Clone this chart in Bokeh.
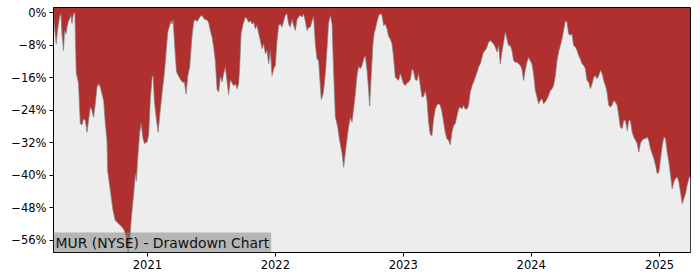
from datetime import datetime
from bokeh.plotting import figure
from bokeh.models import (Range1d, FixedTicker, CustomJSTickFormatter,
                          DatetimeTickFormatter, Label, ColumnDataSource)
from bokeh.embed import file_html
from bokeh.resources import INLINE

# ---------------- data ----------------
title_text = "MUR (NYSE) - Drawdown Chart"

# dates as decimal years
year_frac = [
    2020.268, 2020.281, 2020.289, 2020.299, 2020.315, 2020.326, 2020.334, 2020.346, 2020.354, 2020.365,
    2020.373, 2020.385, 2020.393, 2020.404, 2020.412, 2020.420, 2020.430, 2020.435, 2020.445, 2020.463,
    2020.477, 2020.490, 2020.502, 2020.516, 2020.529, 2020.541, 2020.555, 2020.568, 2020.580, 2020.594,
    2020.607, 2020.620, 2020.633, 2020.646, 2020.659, 2020.672, 2020.685, 2020.690, 2020.711, 2020.732,
    2020.750, 2020.776, 2020.802, 2020.820, 2020.836, 2020.849, 2020.862, 2020.875, 2020.893, 2020.906,
    2020.914, 2020.924, 2020.940, 2020.951, 2020.966, 2020.977, 2020.998, 2021.010, 2021.023, 2021.037,
    2021.045, 2021.055, 2021.070, 2021.084, 2021.096, 2021.115, 2021.133, 2021.148, 2021.159, 2021.174,
    2021.185, 2021.193, 2021.201, 2021.211, 2021.227, 2021.245, 2021.263, 2021.279, 2021.289, 2021.302,
    2021.316, 2021.330, 2021.349, 2021.362, 2021.375, 2021.388, 2021.401, 2021.414, 2021.427, 2021.440,
    2021.453, 2021.466, 2021.479, 2021.492, 2021.505, 2021.518, 2021.531, 2021.545, 2021.557, 2021.570,
    2021.584, 2021.596, 2021.609, 2021.623, 2021.635, 2021.648, 2021.662, 2021.674, 2021.688, 2021.701,
    2021.713, 2021.721, 2021.732, 2021.748, 2021.766, 2021.779, 2021.791, 2021.805, 2021.818, 2021.830,
    2021.844, 2021.857, 2021.870, 2021.883, 2021.896, 2021.909, 2021.922, 2021.935, 2021.948, 2021.961,
    2021.974, 2021.987, 2022.000, 2022.013, 2022.026, 2022.039, 2022.052, 2022.065, 2022.078, 2022.091,
    2022.104, 2022.117, 2022.130, 2022.143, 2022.156, 2022.170, 2022.182, 2022.195, 2022.209, 2022.221,
    2022.234, 2022.248, 2022.260, 2022.273, 2022.287, 2022.299, 2022.313, 2022.326, 2022.338, 2022.352,
    2022.359, 2022.373, 2022.383, 2022.393, 2022.404, 2022.416, 2022.430, 2022.443, 2022.455, 2022.469,
    2022.487, 2022.502, 2022.521, 2022.534, 2022.547, 2022.560, 2022.573, 2022.586, 2022.599, 2022.612,
    2022.625, 2022.638, 2022.651, 2022.664, 2022.677, 2022.690, 2022.703, 2022.716, 2022.729, 2022.737,
    2022.750, 2022.763, 2022.773, 2022.781, 2022.795, 2022.807, 2022.820, 2022.834, 2022.846, 2022.859,
    2022.873, 2022.885, 2022.898, 2022.912, 2022.924, 2022.938, 2022.951, 2022.963, 2022.977, 2022.990,
    2023.002, 2023.016, 2023.029, 2023.041, 2023.055, 2023.068, 2023.080, 2023.094, 2023.107, 2023.120,
    2023.133, 2023.146, 2023.159, 2023.172, 2023.185, 2023.198, 2023.211, 2023.224, 2023.237, 2023.250,
    2023.263, 2023.276, 2023.289, 2023.302, 2023.315, 2023.328, 2023.341, 2023.354, 2023.367, 2023.380,
    2023.393, 2023.406, 2023.420, 2023.432, 2023.445, 2023.459, 2023.471, 2023.484, 2023.498, 2023.510,
    2023.523, 2023.537, 2023.549, 2023.563, 2023.576, 2023.588, 2023.602, 2023.615, 2023.627, 2023.641,
    2023.654, 2023.666, 2023.680, 2023.693, 2023.705, 2023.719, 2023.732, 2023.745, 2023.758, 2023.771,
    2023.784, 2023.797, 2023.810, 2023.823, 2023.836, 2023.849, 2023.862, 2023.875, 2023.888, 2023.901,
    2023.914, 2023.927, 2023.940, 2023.953, 2023.966, 2023.979, 2023.992, 2024.005, 2024.018, 2024.031,
    2024.045, 2024.057, 2024.070, 2024.084, 2024.096, 2024.109, 2024.123, 2024.135, 2024.148, 2024.162,
    2024.174, 2024.188, 2024.201, 2024.213, 2024.227, 2024.240, 2024.252, 2024.266, 2024.279, 2024.291,
    2024.305, 2024.318, 2024.330, 2024.344, 2024.357, 2024.370, 2024.383, 2024.396, 2024.409, 2024.422,
    2024.435, 2024.448, 2024.461, 2024.474, 2024.487, 2024.500, 2024.513, 2024.526, 2024.539, 2024.552,
    2024.565, 2024.578, 2024.591, 2024.604, 2024.617, 2024.630, 2024.643, 2024.656, 2024.670, 2024.682,
    2024.695, 2024.709, 2024.721, 2024.734, 2024.748, 2024.760, 2024.773, 2024.787, 2024.799, 2024.813,
    2024.826, 2024.838, 2024.852, 2024.865, 2024.877, 2024.891, 2024.904, 2024.916, 2024.930, 2024.943,
    2024.956, 2024.969, 2024.982, 2024.995, 2025.008, 2025.021, 2025.034, 2025.047, 2025.060, 2025.073,
    2025.086, 2025.099, 2025.112, 2025.125, 2025.138, 2025.151, 2025.164, 2025.177, 2025.190, 2025.203,
    2025.216, 2025.229, 2025.242,
]

# drawdown in percent
drawdown_pct = [
    -0.3, -5.2, -7.7, -4.4, -1.1, -0.3, -5.2, -9.3, -4.4, -5.2,
    -3.6, -2.0, -1.6, -0.7, -2.7, -0.8, 0.0, -0.3, -14.7, -17.5,
    -27.3, -27.6, -26.1, -26.5, -29.4, -26.5, -23.2, -24.0, -25.7, -22.4,
    -18.3, -17.5, -18.3, -20.0, -21.6, -27.3, -31.4, -38.8, -43.7, -48.6,
    -51.1, -51.9, -52.7, -53.5, -55.2, -58.9, -56.0, -50.3, -44.5, -39.6,
    -41.3, -35.9, -29.4, -27.3, -31.0, -32.2, -31.8, -30.0, -21.1, -15.9,
    -15.5, -22.0, -26.1, -29.4, -25.3, -19.6, -14.7, -8.9, -4.8, -3.2,
    -2.0, -2.8, -1.8, -7.0, -14.5, -15.7, -16.7, -17.2, -17.0, -20.0,
    -15.5, -13.5, -5.8, -2.2, -1.8, -2.2, -1.6, -0.9, -0.7, -1.4,
    -1.8, -1.8, -2.5, -4.5, -6.0, -8.5, -12.0, -19.0, -19.5, -15.7,
    -17.0, -15.0, -13.4, -17.0, -20.2, -16.5, -17.3, -18.0, -17.5, -18.7,
    -17.5, -13.4, -5.2, -2.8, -1.1, -1.6, -2.4, -2.0, -2.8, -2.4,
    -4.0, -3.2, -5.2, -6.9, -8.9, -7.7, -10.1, -9.3, -12.6, -9.3,
    -15.5, -13.8, -13.0, -6.9, -3.2, -2.8, -3.6, -2.0, -0.7, -0.3,
    -2.8, -3.6, -1.6, -3.2, -4.4, -1.6, -1.1, -0.7, -1.1, -0.3,
    -2.0, -4.4, -3.6, -3.6, -2.0, -1.0, -8.0, -11.4, -11.8, -18.3,
    -21.4, -20.0, -17.5, -14.0, -8.7, -2.6, -0.7, -2.7, -14.0, -25.7,
    -28.0, -31.4, -34.5, -38.0, -34.3, -31.0, -28.0, -25.8, -26.9, -23.5,
    -20.0, -15.5, -13.2, -13.8, -13.0, -11.4, -10.6, -14.0, -19.0, -23.0,
    -15.0, -7.5, -5.0, -4.2, -2.2, -0.8, -0.3, -0.7, -3.2, -2.8,
    -4.0, -5.8, -6.5, -7.7, -11.0, -16.0, -16.3, -16.7, -15.0, -16.3,
    -17.5, -17.9, -17.3, -17.1, -16.5, -13.8, -14.5, -16.5, -16.7, -15.0,
    -18.0, -20.8, -20.6, -19.2, -21.5, -27.0, -30.0, -30.2, -26.1, -23.7,
    -22.8, -22.4, -22.8, -24.4, -26.9, -29.4, -31.0, -31.4, -32.5, -29.4,
    -27.8, -27.3, -25.3, -23.7, -23.2, -23.7, -22.8, -23.7, -23.7, -22.8,
    -19.6, -18.0, -17.1, -15.9, -14.7, -13.4, -12.6, -11.0, -9.7, -9.3,
    -8.5, -7.3, -6.9, -7.3, -7.7, -8.5, -9.7, -8.1, -12.6, -9.7,
    -7.3, -4.8, -6.5, -8.1, -8.1, -9.3, -11.8, -12.2, -12.2, -12.6,
    -13.0, -13.8, -16.7, -14.2, -12.2, -11.0, -11.8, -12.6, -15.0, -19.0,
    -20.8, -22.4, -21.6, -21.2, -22.4, -22.0, -21.2, -20.4, -19.2, -18.7,
    -18.0, -15.5, -11.8, -9.7, -8.1, -6.5, -4.4, -2.0, -2.4, -5.2,
    -5.6, -5.2, -8.1, -8.5, -9.3, -10.6, -11.4, -12.6, -13.0, -13.8,
    -16.7, -17.1, -18.7, -17.5, -15.9, -15.5, -16.3, -15.5, -14.2, -15.0,
    -16.7, -17.9, -19.6, -22.8, -23.2, -22.8, -21.6, -22.0, -22.8, -25.3,
    -28.2, -28.5, -26.5, -26.5, -29.0, -26.5, -26.5, -29.4, -30.6, -31.4,
    -32.2, -34.3, -32.0, -31.4, -31.0, -31.0, -30.6, -31.4, -33.5, -34.7,
    -35.9, -37.5, -39.6, -39.2, -35.9, -32.7, -30.6, -31.0, -34.3, -36.7,
    -39.9, -43.3, -41.6, -40.8, -40.4, -41.6, -44.1, -47.0, -45.7, -44.5,
    -42.4, -40.8, -40.0,
]

y_ticks = [0, -8, -16, -24, -32, -40, -48, -56]
x_tick_years = [2021, 2022, 2023, 2024, 2025]

# ---------------- helpers ----------------
EPOCH = datetime(1970, 1, 1)


def to_dt(y):
    yr = int(y)
    a = datetime(yr, 1, 1)
    b = datetime(yr + 1, 1, 1)
    return a + (b - a) * (y - yr)


def to_ms(d):
    return (d - EPOCH).total_seconds() * 1000.0


dates = [to_dt(v) for v in year_frac]
src = ColumnDataSource(dict(date=dates, dd=drawdown_pct))

y_lo = -58.95
y_hi = 1.23

RED = "#b03030"
GRAY_BG = "#ededed"
FONT = "DejaVu Sans"

p = figure(width=700, height=280, x_axis_type="datetime",
           output_backend="svg", toolbar_location=None,
           x_range=Range1d(to_ms(dates[0]), to_ms(dates[-1])),
           y_range=Range1d(y_lo, y_hi),
           min_border_left=53, min_border_right=10,
           min_border_top=7, min_border_bottom=28)

p.background_fill_color = RED
p.border_fill_color = "white"
p.outline_line_color = "black"
p.outline_line_width = 1
p.outline_line_alpha = 1
p.grid.visible = False

p.varea(x="date", y1=y_lo, y2="dd", source=src, fill_color=GRAY_BG)
p.line(x="date", y="dd", source=src, line_color="#808080", line_width=1, line_alpha=0.7)

# axes
p.yaxis.ticker = FixedTicker(ticks=y_ticks)
p.yaxis.formatter = CustomJSTickFormatter(
    code='return (tick < 0 ? "\\u2212" : "") + Math.abs(Math.round(tick)) + "%";')
p.xaxis.ticker = FixedTicker(ticks=[to_ms(datetime(y, 1, 1)) for y in x_tick_years])
p.xaxis.formatter = DatetimeTickFormatter(
    microseconds="%Y", milliseconds="%Y", seconds="%Y", minsec="%Y", minutes="%Y",
    hourmin="%Y", hours="%Y", days="%Y", months="%Y", years="%Y")

for ax in (p.xaxis[0], p.yaxis[0]):
    ax.axis_line_color = "black"
    ax.axis_line_width = 1
    ax.major_tick_line_color = "black"
    ax.major_tick_out = 4
    ax.major_tick_in = 0
    ax.minor_tick_out = 0
    ax.minor_tick_in = 0
    ax.major_label_text_font = FONT
    ax.major_label_text_font_size = "11.5px"
    ax.major_label_text_color = "black"
    ax.major_label_standoff = 3

lbl = Label(x=to_ms(dates[0]), y=y_lo, x_units="data", y_units="data",
            text=title_text, text_font=FONT, text_font_size="13.9px",
            text_color="#111111", anchor="bottom_left",
            background_fill_color="gray", background_fill_alpha=0.5,
            padding=2)
p.add_layout(lbl)

open("out.html", "w").write(file_html(p, INLINE))
